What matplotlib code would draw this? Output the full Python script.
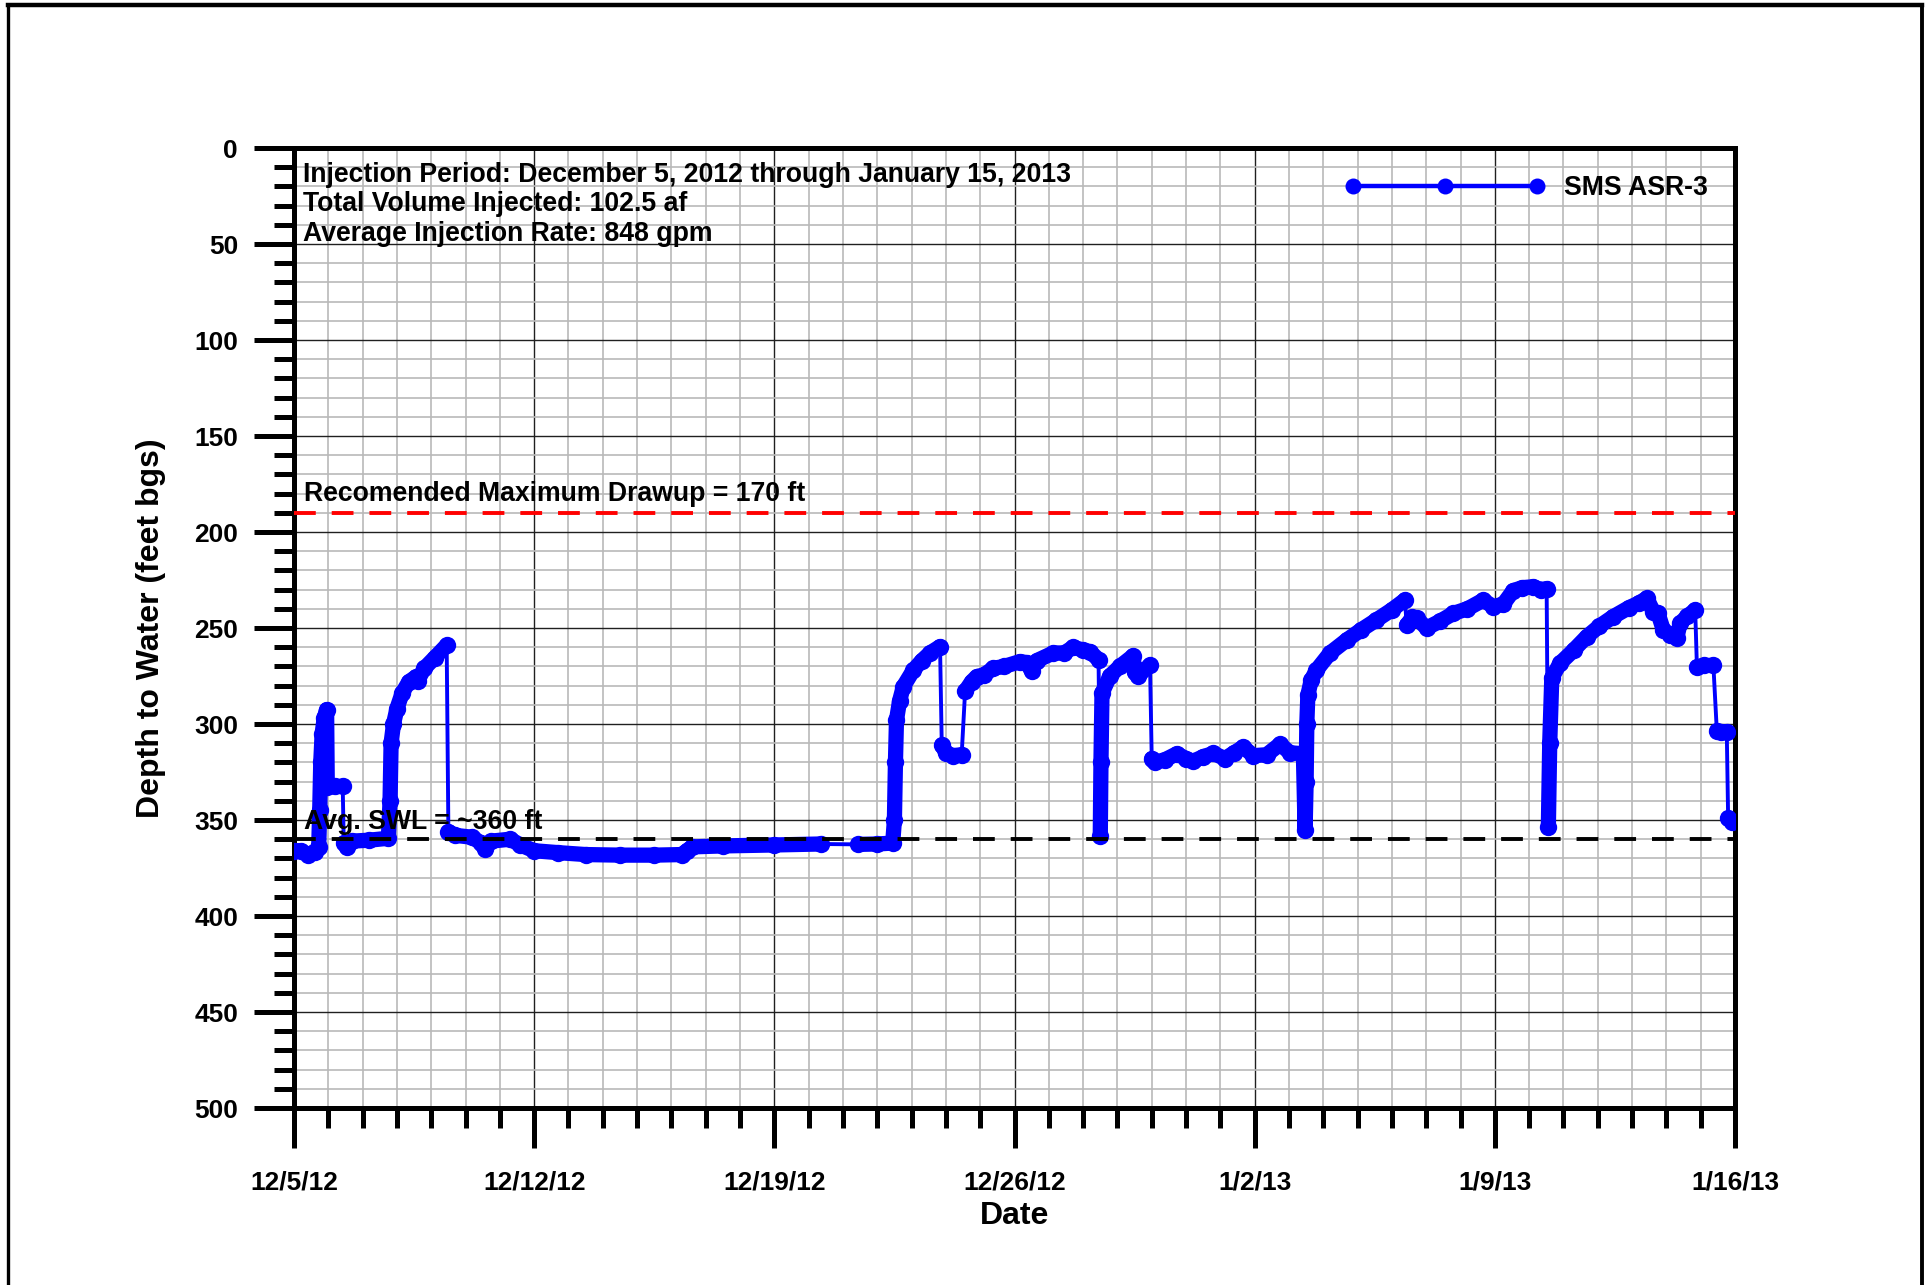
import numpy as np
import pandas as pd
import matplotlib
matplotlib.use("Agg")
import matplotlib.pyplot as plt
import matplotlib.dates as mdates
from matplotlib.lines import Line2D
from matplotlib.ticker import MultipleLocator, FixedLocator, FuncFormatter

plt.rcParams['font.family'] = ['Liberation Sans', 'DejaVu Sans']
plt.rcParams['font.weight'] = 'bold'

start_date = '2012-12-05'
end_date = '2013-01-16'

# transducer record, split into continuous logging runs
# (days after 12/5/12 00:00, depth to water in ft bgs)
run_days = [
    [0.0, 0.2, 0.4, 0.6, 0.72, 0.75, 0.78, 0.82, 0.88, 0.95, 0.97, 1.2, 1.42],
    [1.45, 1.55, 1.7, 2.2, 2.75, 2.8, 2.83, 2.9, 3.0, 3.15, 3.35, 3.55, 3.6, 3.8, 4.1, 4.45],
    [4.5, 4.7, 5.2, 5.45, 5.57, 5.75, 6.3, 6.6, 7.0, 7.7, 8.5, 9.5, 10.5, 11.3, 11.45, 11.6,
     12.5, 14.0, 15.35],
    [16.45, 17.0, 17.45, 17.5, 17.53, 17.56, 17.65, 17.76, 18.05, 18.3, 18.54, 18.83],
    [18.88, 19.0, 19.2, 19.46],
    [19.56, 19.75, 19.9, 20.1, 20.38, 20.7, 21.16, 21.35, 21.5, 21.65, 22.13, 22.45, 22.71,
     23.0, 23.2, 23.45],
    [23.5, 23.52, 23.55, 23.78, 24.07, 24.46, 24.5, 24.6, 24.95],
    [25.0, 25.1, 25.4, 25.73, 26.0, 26.2, 26.5, 26.8, 27.13, 27.4, 27.67, 27.96, 28.35, 28.74,
     29.03, 29.42, 29.47, 29.5, 29.52, 29.55, 29.65, 29.8, 30.2, 30.68, 31.1, 31.55, 32.0, 32.38],
    [32.43, 32.6, 32.72, 33.01, 33.4, 33.79, 34.2, 34.66, 34.96, 35.25, 35.54, 35.8, 36.12,
     36.35, 36.51],
    [36.56, 36.6, 36.66, 36.9, 37.3, 37.68, 38.05, 38.45, 38.9, 39.2, 39.43, 39.62, 39.75,
     39.91, 40.1, 40.3, 40.4, 40.6, 40.84],
    [40.89, 41.1, 41.37],
    [41.47, 41.6, 41.76],
    [41.8, 41.92],
]
run_depth = [
    [366, 366, 368, 366.5, 364, 345, 320, 305, 297, 292.5, 333, 332.5, 332.5],
    [362, 364, 361, 360.5, 359.5, 340, 310, 300, 292, 284, 278, 275.5, 277.5, 271, 265.5, 259],
    [356, 358, 359, 362, 365, 361, 360, 363, 366, 367, 368, 368.3, 368.3, 368, 366, 364,
     363.5, 363, 362.5],
    [362.7, 362.5, 362, 350, 320, 298, 288, 280.5, 272, 267, 263, 259.7],
    [311, 315, 316.5, 316],
    [283, 278, 275.3, 274.5, 271, 270, 267.5, 268, 272.5, 267, 263, 263, 260,
     261.5, 262.3, 266.5],
    [358.5, 320, 284, 275, 270, 264.5, 273, 275, 269.3],
    [318, 320, 318.5, 315.5, 318, 319.5, 317, 315.3, 318, 315, 312, 316.5, 316, 310.5,
     315, 315.5, 355, 330, 300, 285, 277, 272, 263, 256.3, 251, 245.8, 240.5, 235.4],
    [248.4, 244.5, 245, 250, 246.5, 242.4, 240, 235.5, 238.9, 237.5, 230.5, 229, 228.5,
     230, 229.5],
    [353.5, 310, 276, 268.4, 261.5, 254.5, 249, 244.1, 239.5, 237, 234.5, 241.5, 242,
     251, 253.5, 255.4, 247.6, 244, 240.6],
    [270.2, 269.5, 269.5],
    [303.5, 304, 304],
    [349, 351],
]

swl_depth = 360          # average static water level
max_drawup_depth = 190   # 360 ft less 170 ft of allowed drawup

notes = [
    'Injection Period: December 5, 2012 through January 15, 2013',
    'Total Volume Injected: 102.5 af',
    'Average Injection Rate: 848 gpm',
]
well_name = 'SMS ASR-3'

blue = '#0000FF'
t0 = mdates.date2num(pd.Timestamp(start_date).to_pydatetime())
t1 = mdates.date2num(pd.Timestamp(end_date).to_pydatetime())

fig = plt.figure(figsize=(19.32, 12.85), dpi=100)
ax = fig.add_axes([294 / 1932, 1 - 1108 / 1285, 1441 / 1932, 960 / 1285])

# whole record as a thin line, logging runs drawn heavy on top
all_x = t0 + np.concatenate([np.array(d, dtype=float) for d in run_days])
all_y = np.concatenate([np.array(v, dtype=float) for v in run_depth])
ax.plot(all_x, all_y, color=blue, lw=2.8, zorder=3)
for d, v in zip(run_days, run_depth):
    ax.plot(t0 + np.array(d), v, color=blue, lw=11, solid_capstyle='round',
            solid_joinstyle='round', marker='o', ms=12.5, mew=0, zorder=3)

ax.axhline(max_drawup_depth, color='#FF0000', lw=2.8, dashes=(5.6, 4.1), zorder=4)
ax.axhline(swl_depth, color='black', lw=2.8, dashes=(5.6, 4.1), zorder=4)

ax.text(t0 + 0.3, 184, 'Recomended Maximum Drawup = %d ft' % (swl_depth - max_drawup_depth),
        fontsize=19.2, fontweight='bold', va='baseline', ha='left', zorder=5)
ax.text(t0 + 0.3, 354.5, 'Avg. SWL = ~%d ft' % swl_depth,
        fontsize=19.2, fontweight='bold', va='baseline', ha='left', zorder=5)

for i, line in enumerate(notes):
    ax.text(0.0062, 0.965 - i * 0.0308, line, transform=ax.transAxes,
            fontsize=19.2, fontweight='bold', va='baseline', ha='left', zorder=5)

# axes, ticks and grid
ax.set_xlim(t0, t1)
ax.set_ylim(500, 0)
ax.yaxis.set_major_locator(MultipleLocator(50))
ax.yaxis.set_minor_locator(MultipleLocator(10))
weeks = pd.date_range(start_date, end_date, freq='7D')
days = pd.date_range(start_date, end_date, freq='D')
ax.xaxis.set_major_locator(FixedLocator(mdates.date2num(weeks.to_pydatetime())))
ax.xaxis.set_minor_locator(FixedLocator(mdates.date2num(days.to_pydatetime())))


def date_label(v, pos):
    d = mdates.num2date(v)
    return '%d/%d/%s' % (d.month, d.day, d.strftime('%y'))


ax.xaxis.set_major_formatter(FuncFormatter(date_label))

ax.grid(which='minor', color='#b9b9b9', lw=1.2, zorder=0)
ax.grid(which='major', color='#202020', lw=1.0, zorder=0)
ax.set_axisbelow(True)

ax.tick_params(which='major', direction='out', length=28.8, width=3.6, labelsize=19)
ax.tick_params(which='minor', direction='out', length=14.4, width=3.6)
ax.tick_params(axis='x', which='major', pad=16.5)
ax.tick_params(axis='y', which='major', pad=11.5)
for lab in ax.get_xticklabels() + ax.get_yticklabels():
    lab.set_fontweight('bold')
for sp in ax.spines.values():
    sp.set_linewidth(3.6)

ax.set_ylabel('Depth to Water (feet bgs)', fontsize=23, fontweight='bold')
ax.yaxis.set_label_coords(-0.0888, 0.5)
ax.set_xlabel('Date', fontsize=23, fontweight='bold')
ax.xaxis.set_label_coords(0.5, -0.097)

handle = Line2D([], [], color=blue, lw=3.2, marker='o', ms=11.5, mew=0)
ax.legend([handle], [well_name], loc='center right', bbox_to_anchor=(0.9889, 0.958),
          bbox_transform=ax.transAxes, frameon=False, numpoints=3, handlelength=7.5,
          handletextpad=0.72, borderaxespad=0, prop={'size': 19.2, 'weight': 'bold'})

# page border
fig.add_artist(Line2D([8 / 1932, 1922 / 1932], [1 - 5 / 1285, 1 - 5 / 1285],
                      transform=fig.transFigure, color='black', lw=3.2))
fig.add_artist(Line2D([8 / 1932, 8 / 1932], [0, 1 - 5 / 1285],
                      transform=fig.transFigure, color='black', lw=2.4))
fig.add_artist(Line2D([1922 / 1932, 1922 / 1932], [0, 1 - 5 / 1285],
                      transform=fig.transFigure, color='black', lw=2.8))

fig.savefig('out.png', dpi=100)
